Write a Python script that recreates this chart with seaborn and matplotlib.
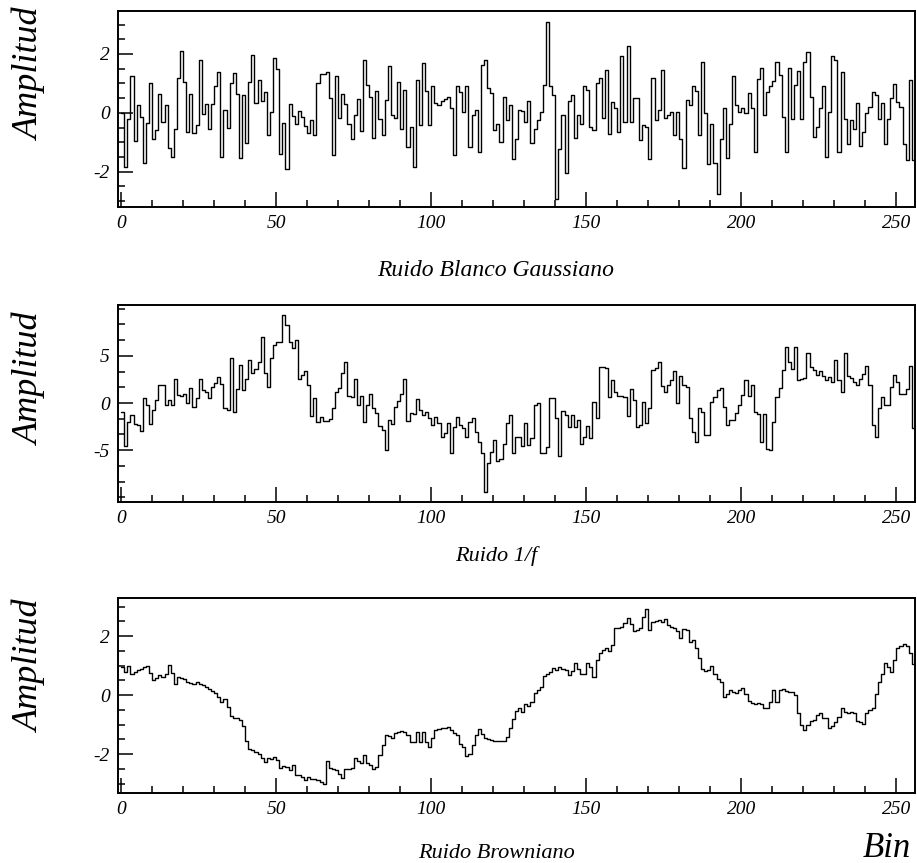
import numpy as np
import pandas as pd
import matplotlib.pyplot as plt
import seaborn as sns
from matplotlib.ticker import MultipleLocator

ruido_blanco = [
    0.0, -1.85, -0.2, 1.25, -0.95, 0.25, -0.15, -1.7, -0.35, 1.0,
    -0.9, -0.6, 0.63, -0.3, 0.25, -1.2, -1.5, -0.55, 1.2, 2.1,
    1.05, -0.65, 0.63, -0.7, -0.4, 1.8, -0.05, 0.3, -0.55, 0.3,
    0.9, 1.4, -1.5, 0.1, -0.5, 1.03, 1.35, 0.63, -1.55, 0.6,
    -1.03, 1.05, 1.95, 0.35, 1.1, 0.4, 0.7, -0.77, 0.03, 1.85,
    1.5, -1.4, -0.35, -1.9, 0.3, -0.1, -0.37, 0.07, -0.15, -0.45,
    -0.7, -0.25,
    -0.77, 1.0, 1.33, 1.33, 1.38, 0.5, -1.45, 1.25, -0.17, 0.63,
    0.3, -0.37, -0.88, -0.08, 0.46, -0.63, 1.8, 0.95, 0.55, -0.86,
    0.75, -0.2, -0.77, 0.44, 1.6, -0.08, -0.17, 1.05, -0.54, 0.78,
    -1.17, -0.48, -1.83, 1.1, -0.43, 1.68, 0.73, -0.43, 0.92, 0.32,
    0.26, 0.4, 0.46, 0.55, 0.17, -1.44, 0.9, 0.72, 0.03, 0.9,
    -1.17, -0.08, 0.09, -1.34, 1.64, 1.78, 0.84, 0.67, -0.6, -0.37,
    -1.0, 0.55, -0.25, 0.26,
    -1.57, -0.88, 0.11, 0.06, -0.31, 0.41, -1.03, -0.54, -0.25, 0.03,
    0.95, 3.1, 0.9, 0.6, -2.94, -1.24, -0.08, -2.03, 0.4, 0.6,
    -0.86, -0.08, -0.37, 0.9, 0.78, -0.48, -0.6, 1.03, 1.18, -0.17,
    1.47, -0.71, 0.38, 0.17, -0.65, 1.93, -0.31, 2.28, -0.31, 0.49,
    0.5, -0.94, -0.43, -0.48, -1.57, 1.2, -0.25, 0.09, 1.47, -0.17,
    -0.08, 0.03, -0.77, 0.03, -0.88, -1.86, 0.44, 0.26, 0.92, 0.75,
    -0.77, 1.72, -0.02, -1.74, -0.39,
    -1.7, -2.77, -0.88, 0.15, -1.52, -0.37, 1.26, 0.26, 0.03, 0.17,
    0.0, 0.67, 0.17, -1.34, 1.16, 1.52, -0.06, 0.72, 0.92, 1.09,
    1.73, 1.3, -0.14, -1.34, 1.52, -0.22, 0.95, 1.43, -0.22, 1.73,
    2.05, 0.55, -0.82, -0.48, 0.15, 0.9, -1.5, 0.03, 1.93, 1.8,
    -1.34, 1.38, -0.2, -1.06, -0.25, -0.54, 0.32, -1.14, -0.65, -0.02,
    0.2, 0.72, 0.6, -0.2, 0.34, -1.06, -0.2, 0.5, 0.98, 0.38,
    0.2, -1.07, -1.6, 1.1, -1.6,
]

ruido_1f = [
    -0.9, -4.6, -2.0, -1.3, -2.2, -2.3, -3.0, 0.5, -0.2, -2.2,
    -0.75, 0.3, 1.9, 1.9, -0.2, 0.3, -0.2, 2.5, 0.85, 0.75,
    1.0, -0.05, 1.55, -0.45, 0.5, 2.5, 1.4, 1.2, 0.5, 1.75,
    2.15, 2.8, 2.0, -0.55, -0.75, 4.8, -0.9, 1.45, 4.0, 1.4,
    2.5, 4.6, 3.15, 3.6, 4.4, 7.05, 3.15, 1.75, 4.75, 6.2,
    6.5, 6.5, 9.35, 8.3, 6.5, 5.8, 6.7, 2.5, 3.0, 3.4,
    1.9, -1.4, 0.5,
    -2.0, -1.5, -1.9, -1.9, -1.7, -0.55, 1.2, 1.55, 3.15, 4.3,
    0.75, 0.65, 2.6, -0.2, 0.75, -2.0, -0.2, 0.95, -0.55, -1.1,
    -2.45, -2.9, -5.0, -1.8, -2.2, -0.4, 0.25, 1.0, 2.5, -1.9,
    -1.1, -1.15, 0.4, -0.75, -1.3, -1.0, -1.6, -2.35, -1.45, -2.15,
    -3.6, -3.2, -2.1, -5.3, -2.5, -1.45, -2.35, -2.6, -3.6, -2.0,
    -1.6, -3.05, -4.1, -5.3, -9.4, -6.4, -5.2, -3.9, -6.2, -5.9,
    -4.3, -2.1, -1.3, -5.3, -3.6,
    -3.6, -4.6, -2.15, -4.45, -3.75, -0.2, -0.05, -5.3, -5.3, -4.7,
    0.5, 0.5, -1.6, -5.6, -0.8, -1.3, -2.5, -1.3, -2.5, -1.75,
    -4.3, -3.6, -2.45, -3.75, 0.15, -1.6, 3.85, 3.85, 3.7, 0.65,
    2.4, 1.2, 0.75, 0.7, 0.65, -1.4, 1.45, 0.3, -2.5, -2.35,
    0.15, -2.1, -0.55, 3.5, 3.7, 4.3, 1.8, 1.2, 1.9, 2.45,
    3.35, 0.0, 2.9, 1.9, 1.75, -1.6, -3.05, -4.1, -0.55, -0.9,
    -3.4, -3.4, 0.15, 0.65,
    1.4, 1.55, -0.4, -2.35, -1.8, -1.8, -1.1, -0.2, 0.8, 2.45,
    0.75, 1.9, -0.9, -1.15, -4.1, -1.15, -4.9, -5.0, -2.0, 0.65,
    1.55, 3.5, 5.9, 4.3, 3.6, 5.9, 2.45, 2.6, 2.7, 5.3,
    3.8, 3.5, 3.0, 3.35, 2.9, 2.4, 2.8, 2.25, 4.6, 2.4,
    1.2, 5.35, 2.9, 2.7, 2.25, 1.9, 2.6, 3.1, 3.95, 1.9,
    -2.35, -3.6, -0.55, 0.65, -0.2, -0.2, 1.75, 3.0, 2.2, 1.0,
    0.95, 1.5, 3.95, -2.7,
]

ruido_browniano = [
    0.96, 0.79, 0.99, 0.70, 0.77, 0.85, 0.9, 0.96, 0.99, 0.75,
    0.5, 0.59, 0.68, 0.62, 0.7, 1.02, 0.74, 0.36, 0.62, 0.59,
    0.54, 0.43, 0.4, 0.36, 0.43, 0.38, 0.34, 0.28, 0.2, 0.14,
    0.06, -0.06, -0.25, -0.14, -0.4, -0.7, -0.77, -0.79, -0.85, -1.04,
    -1.56, -1.83, -1.86, -1.94, -2.0, -2.12, -2.26, -2.15, -2.17, -2.09,
    -2.2, -2.46, -2.4, -2.43, -2.54, -2.37, -2.71, -2.71, -2.77, -2.88,
    -2.77, -2.85,
    -2.85, -2.88, -2.94, -3.03, -2.24, -2.46, -2.5, -2.55, -2.66, -2.8,
    -2.5, -2.5, -2.46, -2.12, -2.24, -2.32, -2.03, -2.32, -2.37, -2.5,
    -2.43, -2.03, -1.69, -1.36, -1.38, -1.45, -1.3, -1.25, -1.22, -1.24,
    -1.36, -1.58, -1.58, -1.24, -1.58, -1.24, -1.58, -1.75, -1.47, -1.19,
    -1.15, -1.13, -1.1, -1.07, -1.19, -1.27, -1.36, -1.67, -1.75, -2.06,
    -2.01, -1.69, -1.36, -1.15, -1.33, -1.47, -1.49, -1.53, -1.56, -1.55,
    -1.56, -1.56, -1.41, -1.13,
    -0.81, -0.54, -0.45, -0.59, -0.32, -0.36, -0.23, 0.06, 0.17, 0.28,
    0.66, 0.7, 0.79, 0.93, 0.85, 0.96, 0.9, 0.85, 0.68, 0.81,
    1.07, 0.88, 0.7, 0.73, 1.07, 0.96, 0.62, 1.19, 1.41, 1.53,
    1.6, 1.5, 1.69, 2.26, 2.28, 2.32, 2.43, 2.62, 2.4, 2.17,
    2.2, 2.26, 2.66, 2.92, 2.2, 2.49, 2.51, 2.54, 2.49, 2.58,
    2.37, 2.32, 2.26, 2.17, 1.92, 2.24, 2.2, 1.81, 1.86, 1.58,
    1.24, 0.88, 0.81, 0.85, 0.99, 0.73,
    0.54, 0.43, -0.06, 0.02, 0.17, 0.1, 0.06, 0.17, 0.23, 0.02,
    -0.2, -0.28, -0.3, -0.28, -0.32, -0.43, -0.45, -0.25, 0.17, -0.23,
    0.17, 0.2, 0.14, 0.11, 0.09, 0.0, -0.62, -1.02, -1.19, -1.0,
    -0.88, -0.85, -0.66, -0.62, -0.79, -0.77, -1.11, -1.04, -0.93, -0.73,
    -0.45, -0.59, -0.6, -0.59, -0.62, -0.88, -0.93, -0.99, -0.62, -0.51,
    -0.45, 0.02, 0.43, 0.73, 1.07, 0.96, 0.79, 1.19, 1.58, 1.65,
    1.72, 1.67, 1.41, 1.04,
]

titulos = ['Ruido Blanco Gaussiano', 'Ruido 1/f', 'Ruido Browniano']
ticks_x = [0, 50, 100, 150, 200, 250]
ticks_y = [[-2, 0, 2], [-5, 0, 5], [-2, 0, 2]]

sns.set_style('white')
plt.rcParams['font.family'] = ['Liberation Serif', 'DejaVu Serif']
plt.rcParams['font.style'] = 'italic'
plt.rcParams['axes.unicode_minus'] = False

W, H = 917, 863
fig = plt.figure(figsize=(W / 100, H / 100), dpi=100)

# posiciones de los paneles en pixeles (arriba, abajo)
cajas = [(11, 207), (305, 502), (598, 793)]
limites_y = [(-3.2, 3.46), (-10.5, 10.4), (-3.32, 3.29)]
paso_menor_y = [0.5, 5 / 3, 0.5]
y_titulo = [270, 556, 853]
y_amplitud = [74, 379, 666]
tam_titulo = [17, 16, 16]

for i, serie in enumerate([ruido_blanco, ruido_1f, ruido_browniano]):
    arriba, abajo = cajas[i]
    ax = fig.add_axes([118 / W, 1 - abajo / H, 797 / W, (abajo - arriba) / H])
    n = len(serie)
    df = pd.DataFrame({'bin': np.arange(n + 1), 'amplitud': list(serie) + [serie[-1]]})
    sns.lineplot(data=df, x='bin', y='amplitud', drawstyle='steps-post',
                 color='black', linewidth=1.0, estimator=None, ax=ax)
    ax.set_xlim(-1, 256)
    ax.set_ylim(*limites_y[i])
    ax.set_xticks(ticks_x)
    ax.xaxis.set_minor_locator(MultipleLocator(10))
    ax.set_yticks(ticks_y[i])
    ax.yaxis.set_minor_locator(MultipleLocator(paso_menor_y[i]))
    ax.tick_params(which='both', direction='in', top=False, right=False,
                   bottom=True, left=True, labelsize=14, color='black',
                   labelcolor='black', width=1.1)
    ax.tick_params(which='major', length=11, pad=6)
    ax.tick_params(which='minor', length=5)
    ax.set_xlabel('')
    ax.set_ylabel('')
    for s in ax.spines.values():
        s.set_color('black')
        s.set_linewidth(1.4)
    fig.text(496 / W, 1 - y_titulo[i] / H, titulos[i], ha='center', va='center',
             fontsize=tam_titulo[i], style='italic', color='black')
    fig.text(30 / W, 1 - y_amplitud[i] / H, 'Amplitud', ha='center', va='center',
             rotation=90, fontsize=26, style='italic', color='black')

fig.text(887 / W, 1 - 848 / H, 'Bin', ha='center', va='center', fontsize=25,
         style='italic', color='black')

plt.savefig('out.png', dpi=100)
